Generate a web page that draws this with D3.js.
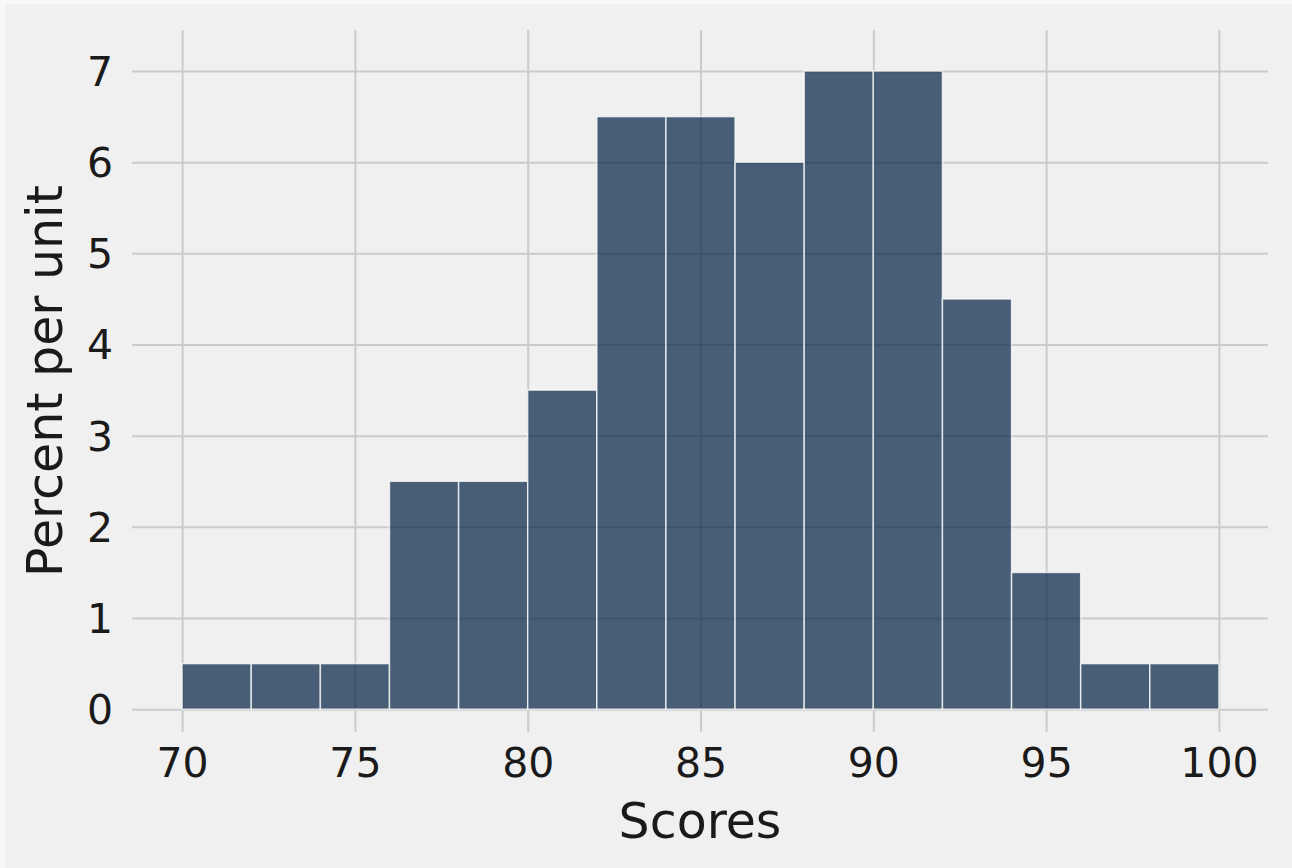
<!DOCTYPE html>
<html>
<head>
<meta charset="utf-8">
<script src="https://cdn.jsdelivr.net/npm/d3@7"></script>
<style>
  html, body { margin: 0; padding: 0; background: #f8f8f8; }
  svg { display: block; }
  text { font-family: "DejaVu Sans", sans-serif; fill: #1a1a1a; }
</style>
</head>
<body>
<svg id="chart" width="1292" height="868"></svg>
<script>
// Histogram bins (left edges, width 2) and heights (percent per unit)
const binStarts = [70, 72, 74, 76, 78, 80, 82, 84, 86, 88, 90, 92, 94, 96, 98];
const binWidth = 2;
const percents = [0.5, 0.5, 0.5, 2.5, 2.5, 3.5, 6.5, 6.5, 6, 7, 7, 4.5, 1.5, 0.5, 0.5];
const xTicks = [70, 75, 80, 85, 90, 95, 100];
const yTicks = [0, 1, 2, 3, 4, 5, 6, 7];
const xLabel = "Scores";
const yLabel = "Percent per unit";

const svg = d3.select("#chart");
svg.append("rect").attr("x", 5).attr("y", 4).attr("width", 1287).attr("height", 864).attr("fill", "#f0f0f0");

const x = d3.scaleLinear().domain([68.55, 101.42]).range([132, 1268]);
const y = d3.scaleLinear().domain([-0.25, 7.45]).range([732, 30]);

const grid = svg.append("g");
// horizontal gridlines via axis
const yAxis = d3.axisLeft(y).tickValues(yTicks).tickSize(-(x.range()[1] - x.range()[0])).tickPadding(19).tickFormat(d3.format("d"));
const gy = svg.append("g").attr("transform", `translate(${x.range()[0]},0)`).call(yAxis);
gy.select(".domain").remove();
gy.selectAll(".tick line").attr("stroke", "#cbcbcb").attr("stroke-width", 2);
gy.selectAll(".tick text").attr("font-size", 41).attr("dy", "0.35em").attr("fill", "#1a1a1a");

const xAxis = d3.axisBottom(x).tickValues(xTicks).tickSize(-(y.range()[0] - y.range()[1])).tickPadding(16).tickFormat(d3.format("d"));
const gx = svg.append("g").attr("transform", `translate(0,${y.range()[0]})`).call(xAxis);
gx.select(".domain").remove();
gx.selectAll(".tick line").attr("stroke", "#cbcbcb").attr("stroke-width", 2);
gx.selectAll(".tick text").attr("font-size", 41).attr("dy", "0.71em").attr("fill", "#1a1a1a");

// bars
svg.append("g").selectAll("rect").data(binStarts).join("rect")
  .attr("x", (d) => x(d))
  .attr("y", (d, i) => y(percents[i]))
  .attr("width", (d) => x(d + binWidth) - x(d))
  .attr("height", (d, i) => y(0) - y(percents[i]))
  .attr("fill", "#001e42")
  .attr("fill-opacity", 0.7)
  .attr("stroke", "#ffffff")
  .attr("stroke-opacity", 0.75)
  .attr("stroke-width", 1.5);

// axis labels
svg.append("text").attr("x", (x.range()[0] + x.range()[1]) / 2).attr("y", 838)
  .attr("text-anchor", "middle").attr("font-size", 49).text(xLabel);
svg.append("text").attr("transform", `translate(62,${(y.range()[0] + y.range()[1]) / 2}) rotate(-90)`)
  .attr("text-anchor", "middle").attr("font-size", 49).text(yLabel);
</script>
</body>
</html>
